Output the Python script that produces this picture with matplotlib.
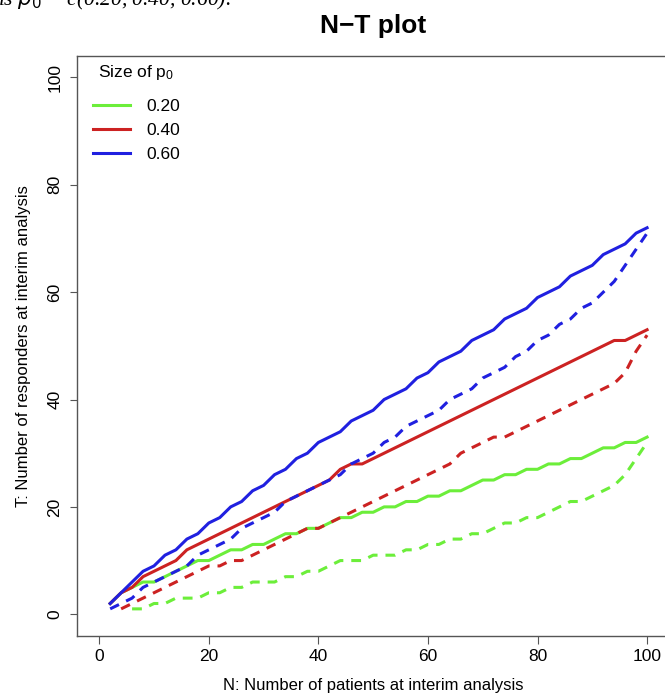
import numpy as np
import matplotlib
matplotlib.use("Agg")
import matplotlib.pyplot as plt
from matplotlib.lines import Line2D

plt.rcParams['font.family'] = ['Liberation Sans', 'DejaVu Sans']

# N: patients at interim analysis (every 2nd patient)
n_pat = np.arange(2, 101, 2)

# T values, solid = upper line, dashed = lower line
t_020 = [2, 4, 5, 6, 6, 7, 8, 9, 10, 10,
         11, 12, 12, 13, 13, 14, 15, 15, 16, 16,
         17, 18, 18, 19, 19, 20, 20, 21, 21, 22,
         22, 23, 23, 24, 25, 25, 26, 26, 27, 27,
         28, 28, 29, 29, 30, 31, 31, 32, 32, 33]
t_020_dash = [np.nan, np.nan, 1, 1, 2, 2, 3, 3, 3, 4,
              4, 5, 5, 6, 6, 6, 7, 7, 8, 8,
              9, 10, 10, 10, 11, 11, 11, 12, 12, 13,
              13, 14, 14, 15, 15, 16, 17, 17, 18, 18,
              19, 20, 21, 21, 22, 23, 24, 26, 29, 32]
t_040 = [2, 4, 5, 7, 8, 9, 10, 12, 13, 14,
         15, 16, 17, 18, 19, 20, 21, 22, 23, 24,
         25, 27, 28, 28, 29, 30, 31, 32, 33, 34,
         35, 36, 37, 38, 39, 40, 41, 42, 43, 44,
         45, 46, 47, 48, 49, 50, 51, 51, 52, 53]
t_040_dash = [np.nan, 1, 2, 3, 4, 5, 6, 7, 8, 9,
              9, 10, 10, 11, 12, 13, 14, 15, 16, 16,
              17, 18, 19, 20, 21, 22, 23, 24, 25, 26,
              27, 28, 30, 31, 32, 33, 33, 34, 35, 36,
              37, 38, 39, 40, 41, 42, 43, 45, 49, 52]
t_060 = [2, 4, 6, 8, 9, 11, 12, 14, 15, 17,
         18, 20, 21, 23, 24, 26, 27, 29, 30, 32,
         33, 34, 36, 37, 38, 40, 41, 42, 44, 45,
         47, 48, 49, 51, 52, 53, 55, 56, 57, 59,
         60, 61, 63, 64, 65, 67, 68, 69, 71, 72]
t_060_dash = [1, 2, 3, 5, 6, 7, 8, 9, 11, 12,
              13, 14, 16, 17, 18, 19, 21, 22, 23, 24,
              25, 26, 28, 29, 30, 32, 33, 35, 36, 37,
              38, 40, 41, 42, 44, 45, 46, 48, 49, 51,
              52, 54, 55, 57, 58, 60, 62, 65, 68, 71]

p0_labels = ['0.20', '0.40', '0.60']
p0_colors = ['#6CEE3A', '#CC2222', '#2020E0']

fig = plt.figure(figsize=(6.65, 6.98), dpi=100)
ax = fig.add_axes([77.3 / 665, 62.3 / 698, 591.7 / 665, 579.7 / 698])

series = [(t_020, t_020_dash), (t_040, t_040_dash), (t_060, t_060_dash)]
for (solid, dash), col in zip(series, p0_colors):
    ax.plot(n_pat, solid, color=col, lw=2.2)
    ax.plot(n_pat, dash, color=col, lw=2.2, dashes=(3.2, 2.6))

ax.set_xlim(-4, 104)
ax.set_ylim(-4, 104)
ax.set_xticks([0, 20, 40, 60, 80, 100])
ax.set_yticks([0, 20, 40, 60, 80, 100])
for sp in ax.spines.values():
    sp.set_color('#555555')
    sp.set_linewidth(1.0)
ax.tick_params(direction='out', length=5.4, width=0.8, color='#555555',
               labelsize=12.5)
ax.tick_params(axis='x', pad=4.5)
ax.tick_params(axis='y', pad=5.4)
for lbl in ax.get_yticklabels():
    lbl.set_rotation(90)
    lbl.set_va('center')

ax.set_xlabel('N: Number of patients at interim analysis', fontsize=12)
ax.set_ylabel('T: Number of responders at interim analysis', fontsize=12)
ax.xaxis.set_label_coords(0.5, -0.073)
ax.yaxis.set_label_coords(-0.078, 0.5)

fig.text(373 / 665, 1 - 26 / 698, 'N\u2212T plot', ha='center', va='center',
         fontsize=19, fontweight='bold')

# piece of the document sentence cut off above the chart
fig.text(-2 / 665, 1 - 5 / 698, 'is $p_0$ = c(0.20, 0.40, 0.60).', ha='left',
         va='baseline', fontsize=15.5, family='Liberation Serif',
         style='italic')

# legend
ax.text((98 - 77.3) / 591.7, (635.7 - 73) / 579.7, 'Size of $\\mathregular{p_0}$',
        transform=ax.transAxes, ha='left', va='center', fontsize=12.5)
handles = [Line2D([], [], color=c, lw=2.2) for c in p0_colors]
ax.legend(handles, p0_labels, loc='upper left', frameon=False, fontsize=12.5,
          bbox_to_anchor=((93.3 - 77.3) / 591.7, (635.7 - 99) / 579.7),
          borderpad=0, borderaxespad=0, handlelength=2.1,
          handletextpad=0.95, labelspacing=0.5)

fig.savefig('out.png', dpi=100)
